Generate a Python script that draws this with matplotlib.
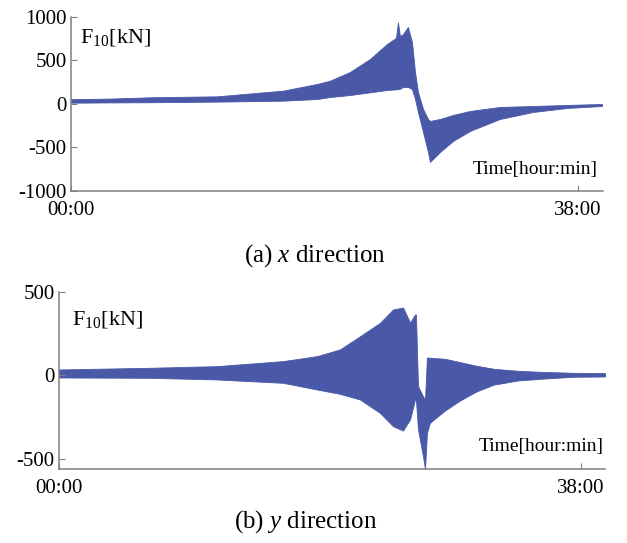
import matplotlib
matplotlib.use('Agg')
import matplotlib.pyplot as plt

# envelope of the x-direction force (hours, kN)
timex = [0.0, 2.92, 5.92, 10.94, 15.89, 18.44, 19.42, 20.91, 22.41, 23.69, 24.36, 24.51, 24.66,
         24.89, 25.26, 25.56, 25.79, 26.01, 26.39, 26.76, 26.91, 27.66, 28.64, 29.91, 32.16,
         34.63, 37.18, 39.81]
upperx = [55, 62, 77, 88, 153, 230, 268, 368, 517, 690, 760, 938, 780,
          804, 885, 712, 368, 138, -57, -172, -195, -172, -126, -80, -34,
          -23, -11, 0]
lowerx = [15, 18, 20, 27, 38, 57, 80, 103, 134, 161, 168, 172, 175,
          195, 195, 172, 57, -92, -322, -552, -666, -552, -425, -310, -172,
          -92, -46, -23]

# envelope of the y-direction force (hours, kN)
timey = [0.0, 6.62, 11.50, 16.30, 18.78, 20.45, 21.91, 23.36, 24.31, 25.04, 25.55, 25.91,
         25.98, 26.13, 26.49, 26.64, 26.78, 27.00, 28.09, 29.19, 30.40, 31.64, 33.40,
         35.01, 37.41, 39.74]
uppery = [36, 46, 56, 86, 116, 156, 235, 315, 395, 407, 317, 365,
          365, -64, -124, -144, 108, 106, 100, 80, 58, 40, 28,
          22, 16, 14]
lowery = [-12, -14, -24, -44, -84, -110, -144, -224, -304, -330, -263, -144,
          -144, -323, -483, -560, -343, -283, -210, -150, -95, -55, -30,
          -20, -8, -6]

xticks = [0, 38]
xticklabels = ['00:00', '38:00']

plt.rcParams['font.family'] = 'serif'
plt.rcParams['font.serif'] = ['Liberation Serif', 'DejaVu Serif']
plt.rcParams['mathtext.fontset'] = 'custom'
plt.rcParams['mathtext.rm'] = 'Liberation Serif'
plt.rcParams['mathtext.it'] = 'Liberation Serif:italic'

bluecolor = '#4a58a8'
spinecolor = '#808080'

fig = plt.figure(figsize=(6.27, 5.43), dpi=100)

def styleaxes(ax, ylim, yticks, xmax):
        ax.set_xlim(0, xmax)
        ax.set_ylim(ylim)
        ax.set_yticks(yticks)
        ax.set_yticklabels([str(t) for t in yticks])
        ax.set_xticks(xticks)
        ax.set_xticklabels(xticklabels)
        for side in ['top', 'right']:
                ax.spines[side].set_visible(False)
        for side in ['left', 'bottom']:
                ax.spines[side].set_color(spinecolor)
                ax.spines[side].set_linewidth(1.1)
        ax.tick_params(direction='in', length=4, width=0.8, color=spinecolor, labelsize=15)
        ax.tick_params(axis='x', pad=7)
        ax.tick_params(axis='y', pad=3)

ax1 = fig.add_axes([0.1132, 0.6483, 0.8485, 0.3204])
ax1.fill_between(timex, lowerx, upperx, color=bluecolor, linewidth=0.6)
styleaxes(ax1, (-1000, 1000), [1000, 500, 0, -500, -1000], 39.88)
ax1.text(0.017, 0.856, r'F$_{10}$[kN]', transform=ax1.transAxes, fontsize=16, va='baseline', ha='left')
ax1.text(0.9906, 0.098, 'Time[hour:min]', transform=ax1.transAxes, fontsize=14, va='baseline', ha='right')

ax2 = fig.add_axes([0.0941, 0.1363, 0.8708, 0.3260])
ax2.fill_between(timey, lowery, uppery, color=bluecolor, linewidth=0.6)
styleaxes(ax2, (-560, 500), [500, 0, -500], 39.74)
ax2.spines['left'].set_bounds(-560, 500)
ax2.text(0.024, 0.816, r'F$_{10}$[kN]', transform=ax2.transAxes, fontsize=16, va='baseline', ha='left')
ax2.text(0.998, 0.099, 'Time[hour:min]', transform=ax2.transAxes, fontsize=14, va='baseline', ha='right')

fig.text(0.5016, 0.530, r'(a) $x$ direction', fontsize=18, ha='center', va='center')
fig.text(0.488, 0.0387, r'(b) $y$ direction', fontsize=18, ha='center', va='center')

fig.savefig('out.png', dpi=100)
